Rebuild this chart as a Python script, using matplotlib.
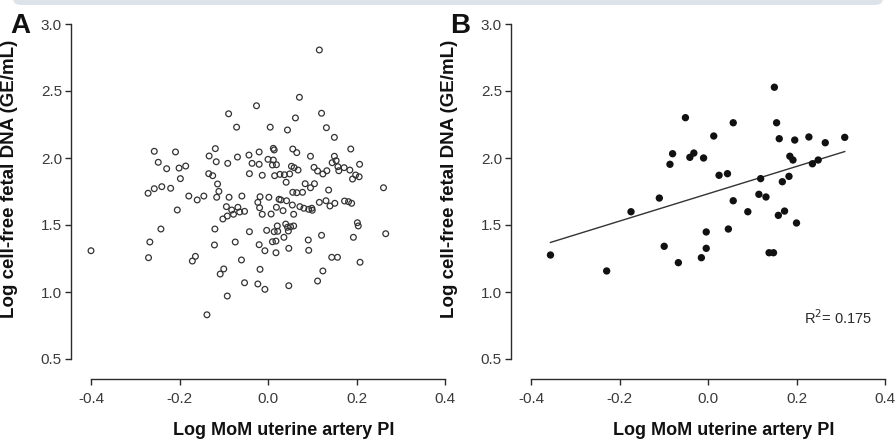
import matplotlib
matplotlib.use("Agg")
import matplotlib.pyplot as plt
from matplotlib.patches import FancyBboxPatch
import numpy as np

# %% data
# panel A: log MoM uterine artery PI vs log cffDNA (all cases)
a_x = [-0.026, -0.089, -0.071, 0.005, -0.257, -0.209, -0.119, -0.133, -0.248, -0.229,
       -0.201, -0.186, -0.198, -0.117, -0.091, -0.069, -0.043, -0.020, -0.036, -0.020,
       0.012, 0.014, 0.000, 0.012, 0.010, 0.019, -0.134, -0.125, -0.042, -0.013,
       0.015, -0.271, -0.257, -0.240, -0.220, -0.205, -0.179, -0.160, -0.145, -0.114,
       -0.111, -0.116, -0.088, -0.059, -0.018, 0.002, -0.023, -0.019, 0.019, -0.094,
       -0.082, -0.068, -0.064, -0.053, -0.078, -0.092, -0.102, -0.013, 0.007, 0.025,
       -0.242, -0.267, -0.270, -0.171, -0.164, -0.120, -0.121, -0.074, -0.042, -0.003,
       0.014, 0.021, 0.010, 0.018, -0.020, -0.007, 0.018, -0.060, -0.100, -0.108,
       -0.018, -0.053, -0.023, -0.007, -0.092, -0.138, -0.400, 0.116, 0.071, 0.121,
       0.062, 0.044, 0.132, 0.150, 0.187, 0.056, 0.065, 0.096, 0.150, 0.145,
       0.154, 0.207, 0.053, 0.059, 0.068, 0.104, 0.112, 0.124, 0.133, 0.158,
       0.172, 0.185, 0.160, 0.198, 0.206, 0.027, 0.037, 0.049, 0.191, 0.041,
       0.084, 0.105, 0.096, 0.137, 0.261, 0.056, 0.065, 0.078, 0.029, 0.042,
       0.055, 0.116, 0.131, 0.151, 0.140, 0.173, 0.182, 0.189, 0.072, 0.081,
       0.092, 0.099, 0.100, 0.034, 0.058, 0.040, 0.051, 0.058, 0.044, 0.022,
       0.036, 0.046, 0.047, 0.091, 0.092, 0.121, 0.193, 0.202, 0.204, 0.266,
       0.144, 0.157, 0.208, 0.124, 0.112, 0.047]
a_y = [2.39, 2.33, 2.23, 2.23, 2.05, 2.045, 2.07, 2.015, 1.968, 1.92,
       1.925, 1.94, 1.846, 1.972, 1.96, 2.007, 2.022, 2.045, 1.96, 1.953,
       2.072, 2.06, 1.99, 1.985, 1.948, 1.95, 1.883, 1.868, 1.883, 1.871,
       1.868, 1.737, 1.771, 1.786, 1.774, 1.612, 1.716, 1.687, 1.716, 1.806,
       1.751, 1.707, 1.707, 1.716, 1.711, 1.707, 1.669, 1.629, 1.632, 1.637,
       1.612, 1.632, 1.597, 1.602, 1.58, 1.567, 1.545, 1.58, 1.582, 1.692,
       1.47, 1.373, 1.256, 1.231, 1.266, 1.47, 1.351, 1.373, 1.45, 1.46,
       1.45, 1.493, 1.375, 1.38, 1.353, 1.308, 1.293, 1.239, 1.172, 1.134,
       1.169, 1.069, 1.06, 1.02, 0.97, 0.83, 1.308, 2.806, 2.453, 2.334,
       2.299, 2.209, 2.226, 2.154, 2.067, 2.067, 2.04, 2.013, 2.013, 1.965,
       1.98, 1.953, 1.938, 1.928, 1.91, 1.93, 1.903, 1.881, 1.905, 1.935,
       1.928, 1.91, 1.905, 1.873, 1.86, 1.878, 1.875, 1.881, 1.843, 1.819,
       1.808, 1.808, 1.778, 1.761, 1.778, 1.744, 1.741, 1.744, 1.687, 1.681,
       1.649, 1.669, 1.681, 1.662, 1.642, 1.679, 1.674, 1.662, 1.637, 1.625,
       1.617, 1.625, 1.61, 1.607, 1.58, 1.507, 1.487, 1.493, 1.483, 1.453,
       1.408, 1.455, 1.326, 1.388, 1.311, 1.423, 1.408, 1.517, 1.493, 1.435,
       1.259, 1.259, 1.222, 1.157, 1.082, 1.047]

# panel B: subgroup with regression line
b_x = [-0.051, -0.080, -0.032, -0.041, -0.010, -0.086, -0.110, -0.174, -0.004, -0.099,
       -0.004, -0.356, -0.015, -0.067, -0.229, 0.150, 0.057, 0.155, 0.013, 0.161,
       0.196, 0.228, 0.265, 0.309, 0.185, 0.192, 0.249, 0.236, 0.025, 0.044,
       0.119, 0.183, 0.168, 0.115, 0.131, 0.057, 0.090, 0.173, 0.159, 0.200,
       0.046, 0.138, 0.148]
b_y = [2.301, 2.032, 2.037, 2.005, 2.0, 1.953, 1.701, 1.599, 1.448, 1.341,
       1.326, 1.276, 1.256, 1.219, 1.157, 2.528, 2.263, 2.263, 2.164, 2.144,
       2.134, 2.157, 2.114, 2.154, 2.013, 1.985, 1.985, 1.957, 1.871, 1.883,
       1.846, 1.863, 1.823, 1.729, 1.709, 1.681, 1.599, 1.604, 1.572, 1.515,
       1.47, 1.293, 1.293]

fit_slope = 1.02
fit_intercept = 1.733
r2_label = "R$^2$= 0.175"

x_ticks = [-0.4, -0.2, 0.0, 0.2, 0.4]
y_ticks = [0.5, 1.0, 1.5, 2.0, 2.5, 3.0]
x_label = "Log MoM uterine artery PI"
y_label = "Log cell-free fetal DNA (GE/mL)"

# %% style
FONT = ["Liberation Sans", "DejaVu Sans"]
INK = "#2b2b2b"
W, H = 896, 441
OFFSET = 20 * 72 / 100  # px -> pt

fig = plt.figure(figsize=(W / 100, H / 100), dpi=100)

# grey band cut off at the top of the page
fig.patches.append(FancyBboxPatch((13 / W, 1 - 5 / H), 870 / W, 12 / H,
                                  transform=fig.transFigure,
                                  boxstyle="round,pad=0,rounding_size=0.008",
                                  mutation_aspect=W / H,
                                  facecolor="#dce3ea", edgecolor="none"))


def style_axes(ax, letter, letter_x):
  ax.set_xlim(-0.4, 0.4)
  ax.set_ylim(0.5, 3.0)
  for s in ["top", "right"]:
    ax.spines[s].set_visible(False)
  for s in ["left", "bottom"]:
    ax.spines[s].set_position(("outward", OFFSET))
    ax.spines[s].set_color(INK)
    ax.spines[s].set_linewidth(1.0)
  ax.set_xticks(x_ticks)
  ax.set_xticklabels([f"{t:.1f}" for t in x_ticks], family=FONT, fontsize=11, color="#3a3a3a")
  ax.set_yticks(y_ticks)
  ax.set_yticklabels([f"{t:.1f}" for t in y_ticks], family=FONT, fontsize=11, color="#3a3a3a")
  ax.tick_params(axis="both", length=4.5, width=1.0, color=INK, pad=2)
  ax.tick_params(axis="x", pad=5)
  ax.set_xlabel(x_label, family=FONT, fontsize=13, fontweight="bold", color="#111111")
  ax.xaxis.set_label_coords(0.545, -0.188)
  ax.set_ylabel(y_label, family=FONT, fontsize=13.5, fontweight="bold", color="#111111")
  ax.patch.set_alpha(0)
  fig.text(letter_x / W, 1 - 33 / H, letter, family=FONT, fontsize=20,
           fontweight="bold", ha="left", va="baseline", color="#111111")


axA = fig.add_axes([91 / W, 82 / H, 354 / W, 335 / H])
axB = fig.add_axes([531 / W, 82 / H, 354 / W, 335 / H])

style_axes(axA, "A", 10)
axA.yaxis.set_label_coords((18 - 91) / 354, 0.537)
style_axes(axB, "B", 450)
axB.yaxis.set_label_coords((458 - 531) / 354, 0.537)

# %% points
axA.scatter(a_x, a_y, s=17, facecolors="none", edgecolors="#333333", linewidths=0.9,
            clip_on=False, zorder=3)

axB.scatter(b_x, b_y, s=28, color="#111111", edgecolors="none", clip_on=False, zorder=3)
fx = np.array([min(b_x), max(b_x)])
axB.plot(fx, fit_slope * fx + fit_intercept, color="#333333", linewidth=1.0, zorder=2)
axB.text(0.867, 0.122, r2_label, transform=axB.transAxes, ha="center", va="center",
         family=FONT, fontsize=10.5, color=INK)

fig.savefig("out.png", dpi=100)
